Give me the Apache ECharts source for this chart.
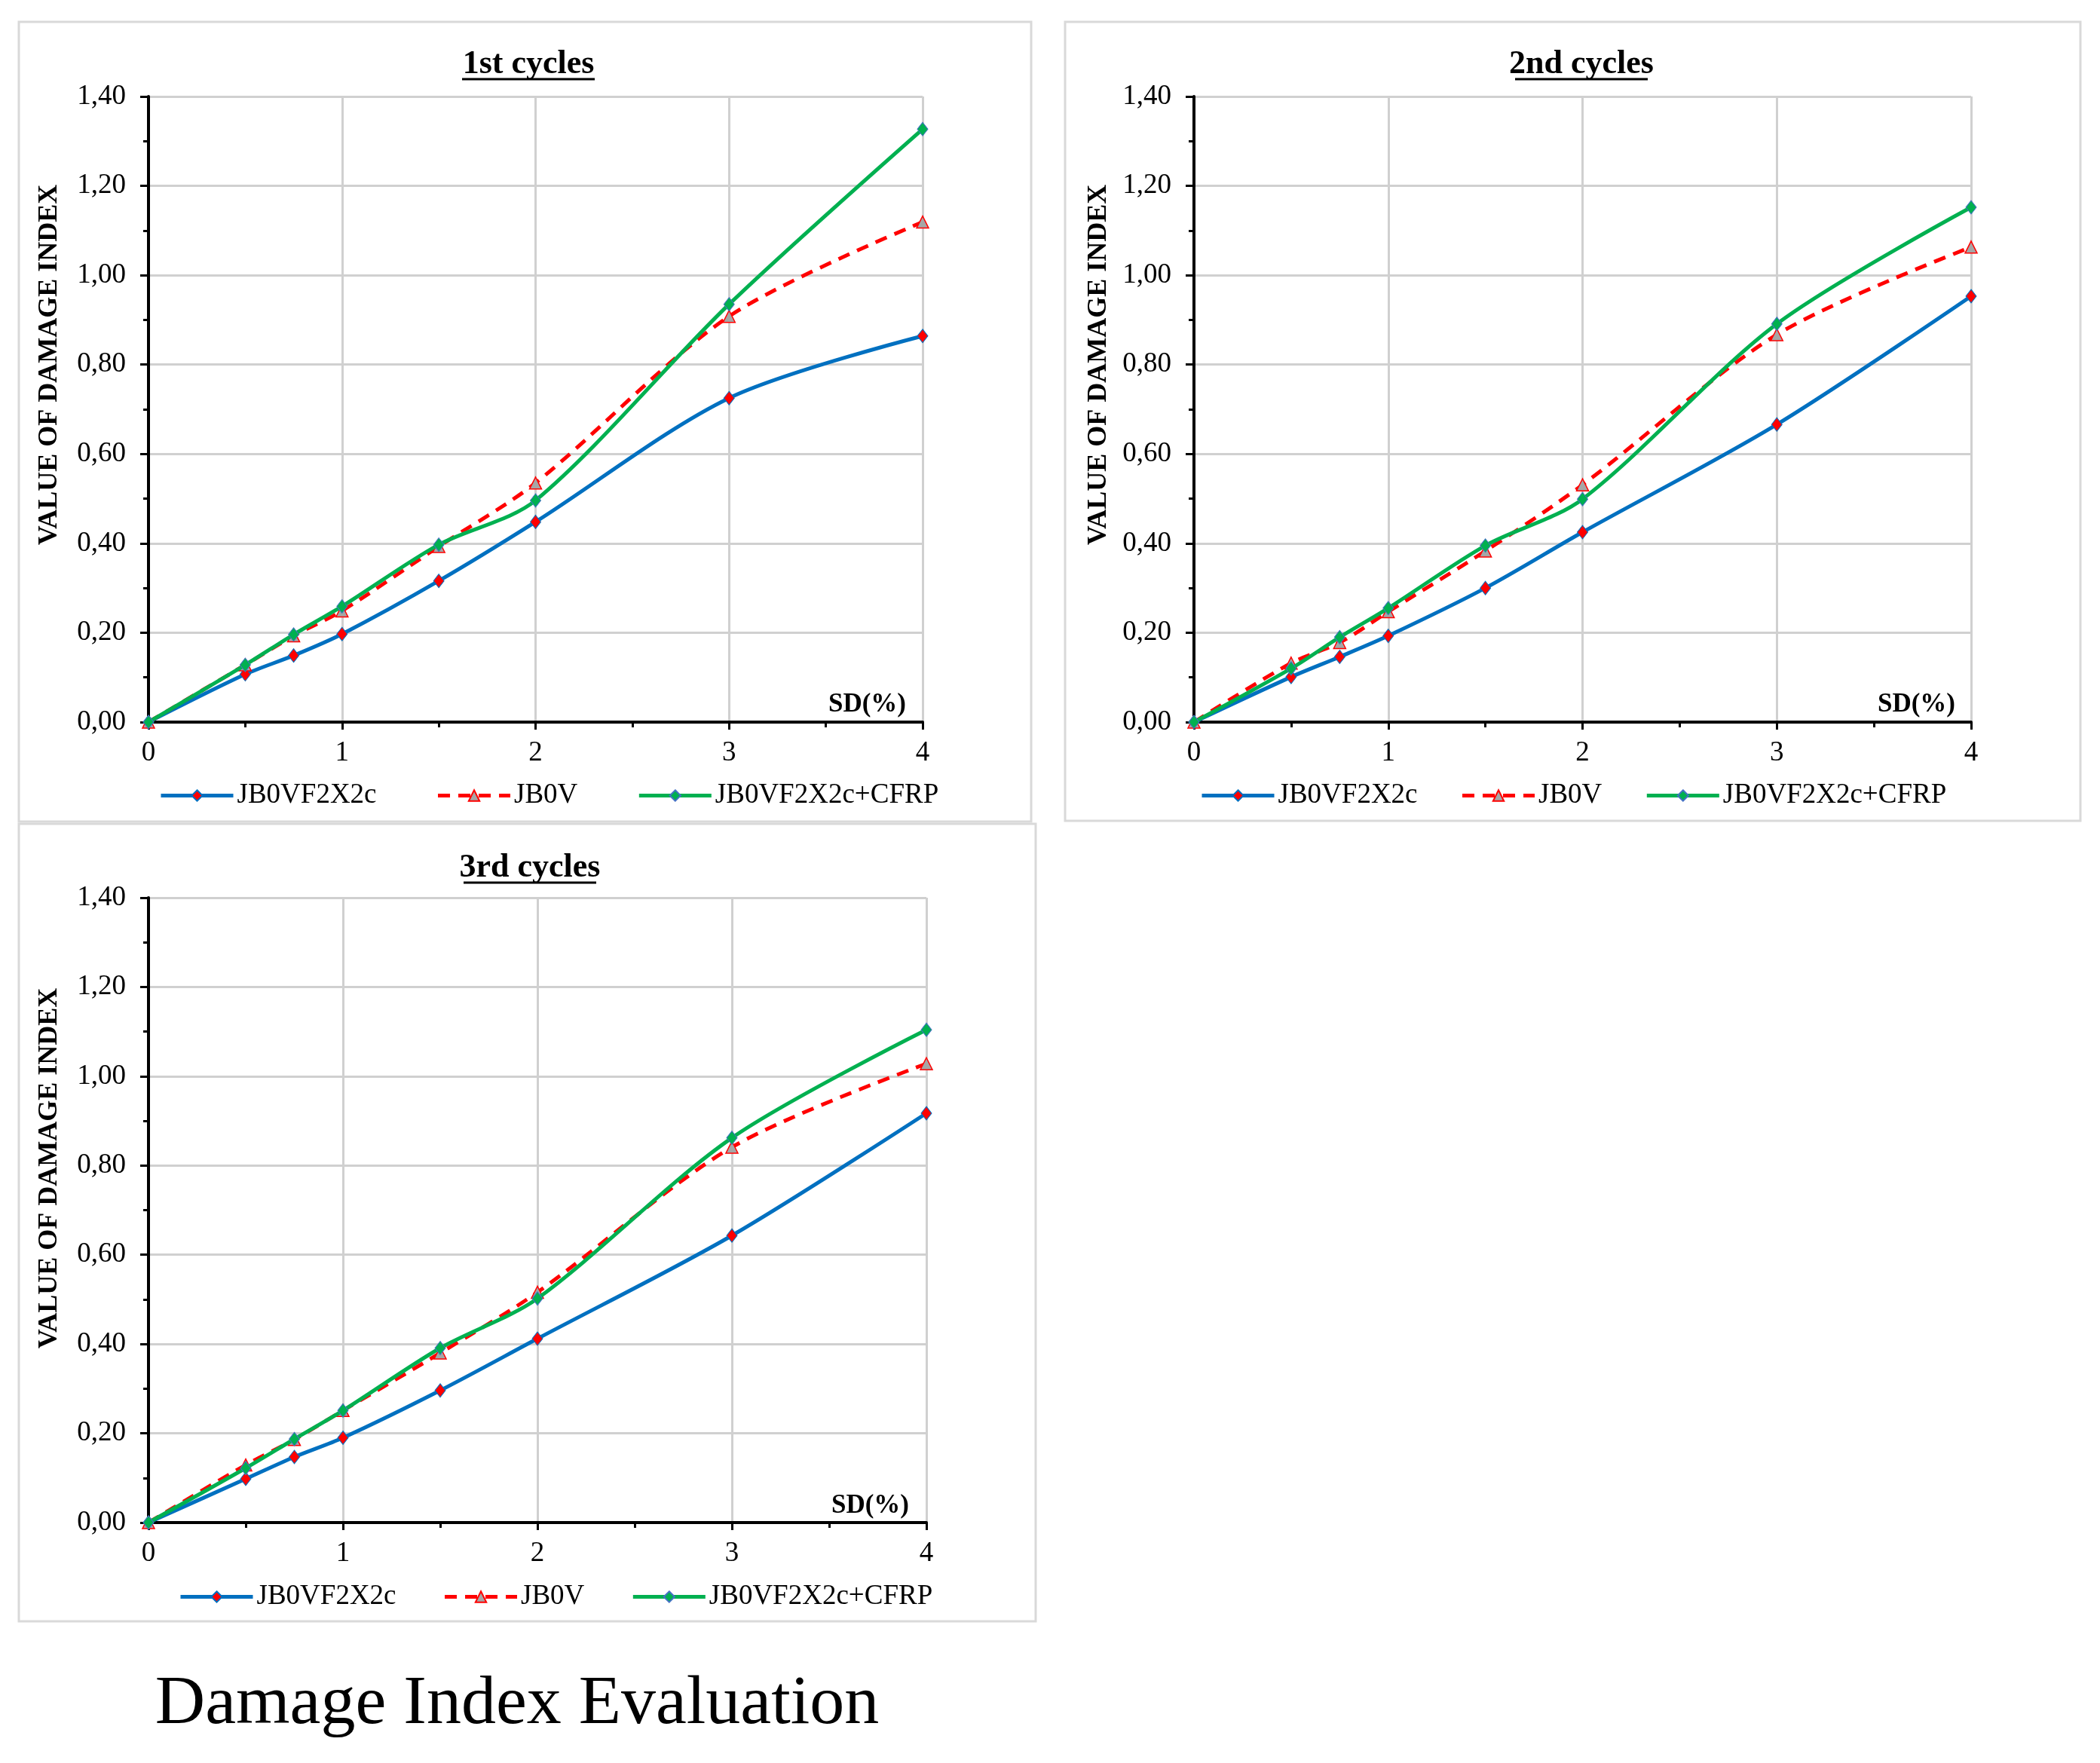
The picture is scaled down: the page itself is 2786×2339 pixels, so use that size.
<!DOCTYPE html>
<html>
<head>
<meta charset="utf-8">
<script src="https://cdn.jsdelivr.net/npm/echarts@6/dist/echarts.min.js"></script>
<style>
html,body{margin:0;padding:0;background:#fff;}
#chart{width:2786px;height:2339px;}
</style>
</head>
<body>
<div id="chart"></div>
<script>
// ---- data ----
const sdValues = [0, 0.5, 0.75, 1, 1.5, 2, 3, 4];
const seriesNames = ['JB0VF2X2c', 'JB0V', 'JB0VF2X2c+CFRP'];
const panelTitles = ['1st cycles', '2nd cycles', '3rd cycles'];
const yTicks = [0, 0.2, 0.4, 0.6, 0.8, 1.0, 1.2, 1.4];
const xTicks = [0, 1, 2, 3, 4];

const cycle1_JB0VF2X2c = [0, 0.107, 0.149, 0.197, 0.316, 0.448, 0.725, 0.864];
const cycle1_JB0V      = [0, 0.128, 0.193, 0.249, 0.393, 0.535, 0.908, 1.119];
const cycle1_CFRP      = [0, 0.128, 0.196, 0.259, 0.397, 0.496, 0.935, 1.327];

const cycle2_JB0VF2X2c = [0, 0.101, 0.146, 0.193, 0.300, 0.425, 0.666, 0.953];
const cycle2_JB0V      = [0, 0.132, 0.178, 0.247, 0.383, 0.531, 0.867, 1.063];
const cycle2_CFRP      = [0, 0.120, 0.190, 0.255, 0.395, 0.499, 0.891, 1.152];

const cycle3_JB0VF2X2c = [0, 0.098, 0.147, 0.190, 0.296, 0.412, 0.643, 0.917];
const cycle3_JB0V      = [0, 0.129, 0.186, 0.251, 0.380, 0.516, 0.841, 1.028];
const cycle3_CFRP      = [0, 0.122, 0.187, 0.251, 0.391, 0.502, 0.862, 1.104];

const cycles = [
  [cycle1_JB0VF2X2c, cycle1_JB0V, cycle1_CFRP],
  [cycle2_JB0VF2X2c, cycle2_JB0V, cycle2_CFRP],
  [cycle3_JB0VF2X2c, cycle3_JB0V, cycle3_CFRP]
];

// ---- layout ----
const FONT = 'Liberation Serif';
const panels = [
  {box:[25, 29, 1343, 1061], grid:{left:197, top:128, width:1027, height:830}, title:[701, 86], legend:[211, 1037], gap:79, yname:[66, 484], sd:[1202, 935]},
  {box:[1413, 29, 1347, 1060], grid:{left:1584, top:128, width:1031, height:830}, title:[2098, 86], legend:[1592, 1037], gap:57, yname:[1458, 484], sd:[2594, 935]},
  {box:[25, 1093, 1349, 1058], grid:{left:197, top:1191, width:1032, height:829}, title:[703, 1152], legend:[237, 2100], gap:62, yname:[66, 1550], sd:[1206, 1998]}
];

const styles = [
  {line:{color:'#0070C0', width:5, type:'solid'}, symbol:'diamond', size:[14, 18], item:{color:'#FF0000', borderColor:'#0070C0', borderWidth:1}},
  {line:{color:'#FF0000', width:5, type:[16, 11]}, symbol:'triangle', size:16, item:{color:'#A6A6A6', borderColor:'#FF0000', borderWidth:1.5}},
  {line:{color:'#00B050', width:5, type:'solid'}, symbol:'diamond', size:[14, 18], item:{color:'#00B050', borderColor:'#4472C4', borderWidth:1}}
];

const option = {
  backgroundColor:'#ffffff',
  animation:false,
  grid:[], xAxis:[], yAxis:[], legend:[], series:[], graphic:[]
};

panels.forEach((p, i) => {
  option.graphic.push({type:'rect', shape:{x:p.box[0], y:p.box[1], width:p.box[2], height:p.box[3]},
    style:{fill:'none', stroke:'#D9D9D9', lineWidth:3}, z:0});
  option.graphic.push({type:'text', x:p.title[0], y:p.title[1],
    style:{text:panelTitles[i], font:'bold 44px "' + FONT + '"', fill:'#000', textAlign:'center', textVerticalAlign:'middle'}, z:5});
  option.graphic.push({type:'line', shape:{x1:p.title[0]-88, y1:p.title[1]+19, x2:p.title[0]+88, y2:p.title[1]+19},
    style:{stroke:'#000', lineWidth:3}, z:5});
  option.graphic.push({type:'text', x:p.yname[0], y:p.yname[1], rotation:Math.PI/2,
    style:{text:'VALUE OF DAMAGE INDEX', font:'bold 36px "' + FONT + '"', fill:'#000', textAlign:'center', textVerticalAlign:'middle'}, z:5});
  option.graphic.push({type:'text', x:p.sd[0], y:p.sd[1],
    style:{text:'SD(%)', font:'bold 35px "' + FONT + '"', fill:'#000', textAlign:'right', textVerticalAlign:'middle'}, z:5});

  option.grid.push(Object.assign({containLabel:false}, p.grid));
  option.xAxis.push({
    type:'value', gridIndex:i, min:xTicks[0], max:xTicks[xTicks.length-1], interval:1,
    axisLine:{show:true, onZero:false, lineStyle:{color:'#000', width:4}},
    axisTick:{show:true, length:10, lineStyle:{color:'#000', width:3}},
    minorTick:{show:true, splitNumber:2, length:7, lineStyle:{color:'#000', width:3}},
    axisLabel:{fontFamily:FONT, fontSize:37, color:'#000', margin:23},
    splitLine:{show:true, lineStyle:{color:'#D0D0D0', width:3}}
  });
  option.yAxis.push({
    type:'value', gridIndex:i, min:yTicks[0], max:yTicks[yTicks.length-1], interval:0.2,
    axisLine:{show:true, onZero:false, lineStyle:{color:'#000', width:4}},
    axisTick:{show:true, length:11, lineStyle:{color:'#000', width:3}},
    minorTick:{show:true, splitNumber:2, length:7, lineStyle:{color:'#000', width:3}},
    axisLabel:{fontFamily:FONT, fontSize:37, color:'#000', margin:30, formatter:v => v.toFixed(2).replace('.', ',')},
    splitLine:{show:true, lineStyle:{color:'#D0D0D0', width:3}}
  });
  option.legend.push({
    data:seriesNames.map((n, k) => ({name:n, lineStyle:{width:5, color:styles[k].line.color, type:styles[k].line.type}})),
    left:p.legend[0], top:p.legend[1], orient:'horizontal', padding:0,
    itemWidth:96, itemHeight:18, itemGap:p.gap,
    textStyle:{fontFamily:FONT, fontSize:37, color:'#000'}
  });
  cycles[i].forEach((vals, k) => {
    const s = styles[k];
    option.series.push({
      name:seriesNames[k], type:'line', xAxisIndex:i, yAxisIndex:i,
      data:sdValues.map((x, j) => [x, vals[j]]),
      smooth:0.3, symbol:s.symbol, symbolSize:s.size, showSymbol:true,
      lineStyle:s.line, itemStyle:s.item, z:3+k, emphasis:{disabled:true}
    });
  });
});

option.graphic.push({type:'text', x:686, y:2262,
  style:{text:'Damage Index Evaluation', font:'92px "' + FONT + '"', fill:'#000', textAlign:'center', textVerticalAlign:'middle'}});

const chart = echarts.init(document.getElementById('chart'));
chart.setOption(option);
</script>
</body>
</html>
